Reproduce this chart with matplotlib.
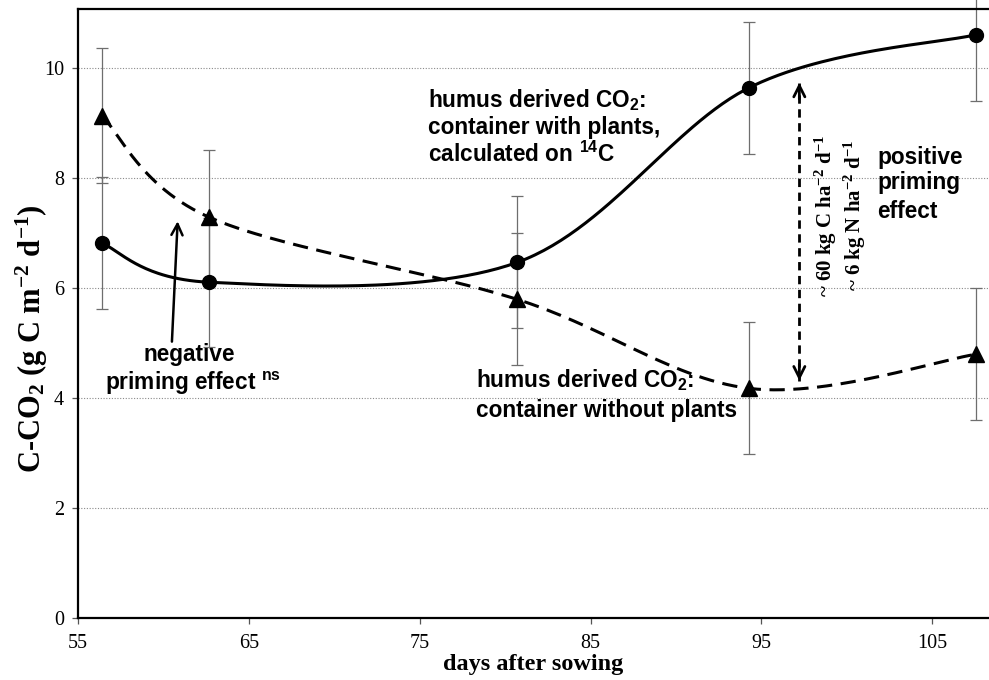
import numpy as np
import matplotlib
matplotlib.use('Agg')
import matplotlib.pyplot as plt

# ---- data ----
days = [56.4, 62.7, 80.7, 94.3, 107.55]
with_plants = [6.82, 6.11, 6.47, 9.65, 10.61]
with_plants_err = [1.2, 1.17, 1.2, 1.2, 1.2]
without_plants = [9.14, 7.29, 5.8, 4.18, 4.8]
without_plants_err = [1.22, 1.22, 1.2, 1.2, 1.2]
xticks = [55, 65, 75, 85, 95, 105]
yticks = [0, 2, 4, 6, 8, 10]

plt.rcParams['mathtext.default'] = 'regular'

SERIF = 'Liberation Serif'
SANS = 'Liberation Sans'


def smooth(x, y, n=60):
    P = np.column_stack([x, y]).astype(float)
    pts = []
    for i in range(len(P) - 1):
        p0 = P[i - 1] if i > 0 else P[i]
        p1 = P[i]
        p2 = P[i + 1]
        p3 = P[i + 2] if i + 2 < len(P) else P[i + 1]
        c1 = p1 + (p2 - p0) / 6
        c2 = p2 - (p3 - p1) / 6
        t = np.linspace(0, 1, n)[:, None]
        seg = (1 - t) ** 3 * p1 + 3 * (1 - t) ** 2 * t * c1 + 3 * (1 - t) * t ** 2 * c2 + t ** 3 * p2
        pts.append(seg if i == 0 else seg[1:])
    S = np.vstack(pts)
    return S[:, 0], S[:, 1]


fig = plt.figure(figsize=(9.89, 6.8), dpi=100)
ax = fig.add_axes([77.8 / 989, (680 - 618.3) / 680, (989 - 77.8) / 989, (618.3 - 9.3) / 680])
ax.set_xlim(55, 55 + (989 - 77.8) / 17.09)
ax.set_ylim(0, (618.3 - 9.3) / 55)

# grid
ax.set_yticks(yticks)
ax.set_xticks(xticks)
ax.yaxis.grid(True, linestyle=(0, (1, 1.5)), color='#8a8a8a', linewidth=0.8)
ax.set_axisbelow(True)

for s in ['left', 'bottom', 'top']:
    ax.spines[s].set_linewidth(1.6)
ax.spines['right'].set_visible(False)
ax.tick_params(axis='both', direction='out', length=4, width=0.9, color='#555555')
ax.tick_params(axis='x', pad=7)
ax.tick_params(axis='y', pad=6)
for lab in ax.get_xticklabels() + ax.get_yticklabels():
    lab.set_fontfamily(SERIF)
    lab.set_fontsize(14.5)

# error bars
for vals, err in [(with_plants, with_plants_err), (without_plants, without_plants_err)]:
    eb = ax.errorbar(days, vals, yerr=err, fmt='none', ecolor='#6e6e6e',
                     elinewidth=0.9, capsize=4, capthick=0.9, zorder=2)
    for a in list(eb[1]) + list(eb[2]):
        a.set_clip_on(False)

# curves
sx, sy = smooth(days, with_plants)
ax.plot(sx, sy, color='black', lw=2.2, solid_capstyle='round', zorder=3)
sx2, sy2 = smooth(days, without_plants)
ax.plot(sx2, sy2, color='black', lw=2.2, dashes=(5, 2.8), zorder=3)

ax.plot(days, with_plants, 'o', color='black', ms=10, zorder=4, clip_on=False)
ax.plot(days, without_plants, '^', color='black', ms=11, zorder=4, clip_on=False)

# axis labels
ax.set_xlabel('days after sowing', fontfamily=SERIF, fontweight='bold', fontsize=17.5, labelpad=1)
fig.text(32 / 989, 1 - 339 / 680, 'C-CO$_2$ (g C m$^{-2}$ d$^{-1}$)', rotation=90,
         ha='center', va='center', fontfamily=SERIF, fontweight='bold', fontsize=22)

# annotations
tkw = dict(fontfamily=SANS, fontweight='bold', fontsize=16.3, ha='left', va='baseline')
ax.text(75.49, 9.30, 'humus derived CO$_2$:', **tkw)
ax.text(75.49, 8.80, 'container with plants,', **tkw)
ax.text(75.49, 8.30, 'calculated on $^{14}$C', **tkw)

ax.text(78.3, 4.21, 'humus derived CO$_2$:', **tkw)
ax.text(78.3, 3.66, 'container without plants', **tkw)

ax.text(101.8, 8.26, 'positive', **tkw)
ax.text(101.8, 7.80, 'priming', **tkw)
ax.text(101.8, 7.27, 'effect', **tkw)

ax.text(61.5, 4.67, 'negative', fontfamily=SANS, fontweight='bold', fontsize=16.3,
        ha='center', va='baseline')
ax.text(56.6, 4.15, 'priming effect $^{ns}$', fontfamily=SANS, fontweight='bold', fontsize=16.3,
        ha='left', va='baseline')
ax.annotate('', xy=(60.85, 7.27), xytext=(60.5, 4.98),
            arrowprops=dict(arrowstyle='->', lw=1.8, color='black', mutation_scale=20))

# rotated amounts
rkw = dict(fontfamily=SERIF, fontweight='bold', fontsize=15, rotation=90, ha='center', va='bottom')
ax.text(98.75, 5.85, '~ 60 kg C ha$^{-2}$ d$^{-1}$', **rkw)
ax.text(100.5, 5.95, '~ 6 kg N ha$^{-2}$ d$^{-1}$', **rkw)

# dashed double arrow
xa = 97.22
ytop, ybot = 9.79, 4.27
ax.plot([xa, xa], [ybot + 0.05, ytop - 0.05], color='black', lw=2.0, dashes=(3, 2), zorder=3)
ax.annotate('', xy=(xa, ytop), xytext=(xa, ytop - 0.4),
            arrowprops=dict(arrowstyle='->', lw=2.0, color='black', mutation_scale=20))
ax.annotate('', xy=(xa, ybot), xytext=(xa, ybot + 0.4),
            arrowprops=dict(arrowstyle='->', lw=2.0, color='black', mutation_scale=20))

fig.savefig('out.png', dpi=100)
